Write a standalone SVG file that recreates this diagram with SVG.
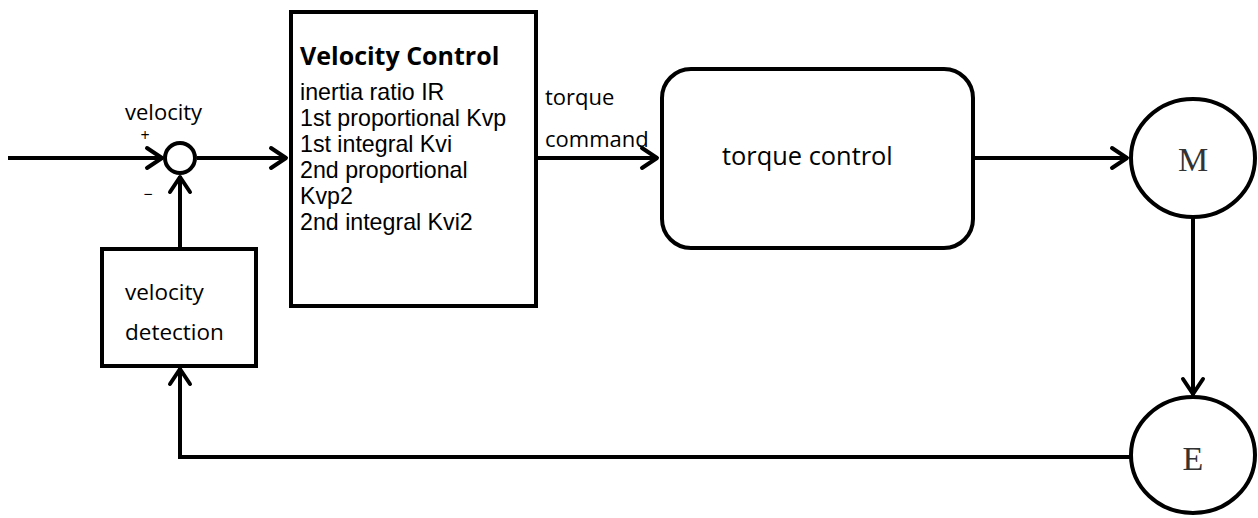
<svg xmlns="http://www.w3.org/2000/svg" width="1258" height="518" viewBox="0 0 1258 518">
<style>
.box{fill:#fff;stroke:#000;stroke-width:4}
.ln{fill:none;stroke:#000;stroke-width:4}
.t{font-family:"Open Sans","Liberation Sans",sans-serif;fill:#000}
.b{font-family:"Liberation Sans",Arial,sans-serif;fill:#000}
.s{font-family:"Liberation Serif","DejaVu Serif",serif;fill:#333}
</style>
<defs>
<marker id="arr" markerUnits="userSpaceOnUse" markerWidth="26" markerHeight="30" viewBox="-22 -15 26 30" refX="0" refY="0" orient="auto">
<path d="M-16,-10 L-1,0 L-16,10" fill="none" stroke="#000" stroke-width="4" stroke-linecap="round" stroke-linejoin="round"/>
</marker>
</defs>
<rect width="1258" height="518" fill="#fff"/>
<g id="connectors">
<line class="ln" x1="8" y1="158" x2="163" y2="158" marker-end="url(#arr)"/>
<line class="ln" x1="197" y1="158" x2="287" y2="158" marker-end="url(#arr)"/>
<line class="ln" x1="538" y1="158" x2="658" y2="158" marker-end="url(#arr)"/>
<line class="ln" x1="975" y1="158" x2="1128" y2="158" marker-end="url(#arr)"/>
<line class="ln" x1="1193" y1="218" x2="1193" y2="395" marker-end="url(#arr)"/>
<polyline class="ln" points="1131,457 180,457 180,368" marker-end="url(#arr)"/>
<line class="ln" x1="180" y1="247" x2="180" y2="176" marker-end="url(#arr)"/>
</g>
<g id="sum">
<circle class="box" cx="180" cy="158" r="15"/>
<text class="t" x="125" y="120" font-size="22">velocity</text>
<text class="t" x="145" y="141" font-size="16" text-anchor="middle">+</text>
<text class="t" x="148" y="200" font-size="16" text-anchor="middle">−</text>
</g>
<g id="velocity-control">
<rect class="box" x="291" y="12" width="245" height="294"/>
<text class="t" x="300" y="65" font-size="25" font-weight="bold">Velocity Control</text>
<text class="b" font-size="23.2">
<tspan x="300" y="100">inertia ratio IR</tspan>
<tspan x="300" y="126">1st proportional Kvp</tspan>
<tspan x="300" y="152">1st integral Kvi</tspan>
<tspan x="300" y="178">2nd proportional</tspan>
<tspan x="300" y="204">Kvp2</tspan>
<tspan x="300" y="230">2nd integral Kvi2</tspan>
</text>
</g>
<g id="torque-command-label">
<text class="t" x="545" y="105" font-size="22">torque</text>
<text class="t" x="545" y="147" font-size="22">command</text>
</g>
<g id="torque-control">
<rect class="box" x="662" y="69" width="311" height="179" rx="29"/>
<text class="t" x="722" y="165" font-size="25.4">torque control</text>
</g>
<g id="motor">
<ellipse class="box" cx="1193" cy="158" rx="62" ry="59"/>
<text class="s" x="1193" y="171" font-size="34" text-anchor="middle">M</text>
</g>
<g id="encoder">
<ellipse class="box" cx="1193" cy="455" rx="62" ry="58"/>
<text class="s" x="1193" y="470" font-size="34" text-anchor="middle">E</text>
</g>
<g id="velocity-detection">
<rect class="box" x="102" y="249" width="154" height="117"/>
<text class="t" x="125" y="300" font-size="22.5">velocity</text>
<text class="t" x="125" y="340" font-size="22.5">detection</text>
</g>
</svg>
